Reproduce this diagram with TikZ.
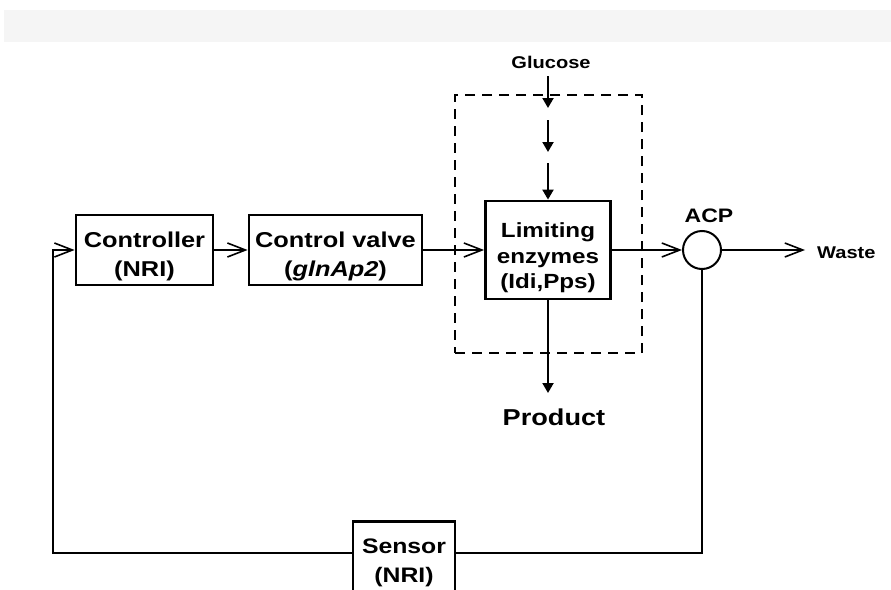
\documentclass[tikz,border=0pt]{standalone}
\usepackage{fontspec}
\setmainfont{Liberation Sans}[FakeStretch=1.18]
\usetikzlibrary{arrows.meta}
\begin{document}
\begin{tikzpicture}[x=1pt,y=-1pt,
  box/.style={draw, line width=2.8pt, inner sep=0pt, align=center, font=\fontsize{21.5}{29}\selectfont\bfseries},
  conn/.style={line width=2pt},
  barb/.style={conn, -{Straight Barb[length=18pt,width=14pt,line width=1.6pt]}},
  tri/.style={conn, -{Triangle[length=10pt,width=11pt]}},
  lbl/.style={inner sep=0pt, anchor=base}]
\useasboundingbox (0,0) rectangle (891,589);
\clip (0,0) rectangle (891,589);
\fill[white] (0,0) rectangle (891,589);
\fill[black!4] (4,10) rectangle (891,42);

% dashed group
\node[draw, line width=2.3pt, dash pattern=on 10pt off 7pt, minimum width=187pt, minimum height=258pt, inner sep=0pt] (grp) at (548.5,224) {};

% boxes
\node[box, minimum width=137pt, minimum height=70pt, text height=57pt] (ctrl) at (144.5,250) {Controller\\(NRI)};
\node[box, minimum width=173pt, minimum height=70pt, text height=57pt] (valve) at (335.5,250) {Control valve\\(\textit{glnAp2})};
\node[box, minimum width=125pt, minimum height=98pt, text height=82pt, font=\fontsize{20.5}{25.5}\selectfont\bfseries] (lim) at (548,250) {Limiting\\enzymes\\(Idi,Pps)};
\node[draw, circle, line width=2pt, minimum size=38pt, inner sep=0pt, fill=white] (acp) at (702,250) {};
\node[box, minimum width=102pt, inner ysep=17pt, anchor=north, fill=white, font=\fontsize{21}{29}\selectfont\bfseries] (sensor) at (404,520) {Sensor\\(NRI)};

% labels
\node[lbl, font=\fontsize{19.5}{24}\selectfont\bfseries] (acplbl) at (709,222) {ACP};
\node[lbl, font=\fontsize{17}{20}\selectfont\bfseries] (glu) at (551,68) {Glucose};
\node[lbl, font=\fontsize{23}{27}\selectfont\bfseries] (prod) at (554,425) {Product};
\node[lbl, anchor=base west, font=\fontsize{17}{20}\selectfont\bfseries] (waste) at (817,258) {Waste};

% coordinates
\coordinate (g0) at (548,76);
\coordinate (g1) at (548,108);
\coordinate (g2) at (548,120);
\coordinate (g3) at (548,152);
\coordinate (g4) at (548,163);
\coordinate (p1) at (548,393);
\coordinate (w1) at (805,250);
\coordinate (fr) at (702,553);
\coordinate (fl) at (53,553);

% glucose arrows
\draw[tri] (g0) -- (g1);
\draw[tri] (g2) -- (g3);
\draw[tri] (g4) -- (lim.north);
\draw[tri] (lim.south) -- (p1);

% main path
\draw[barb] (ctrl.east) -- (valve.west);
\draw[barb] (valve.east) -- (lim.west);
\draw[barb] (lim.east) -- (acp.west);
\draw[barb] (acp.east) -- (w1);

% feedback
\draw[conn] (acp.south) -- (fr) -- (fr -| sensor.east);
\draw[barb] (fr -| sensor.west) -- (fl) |- (ctrl.west);
\end{tikzpicture}
\end{document}
